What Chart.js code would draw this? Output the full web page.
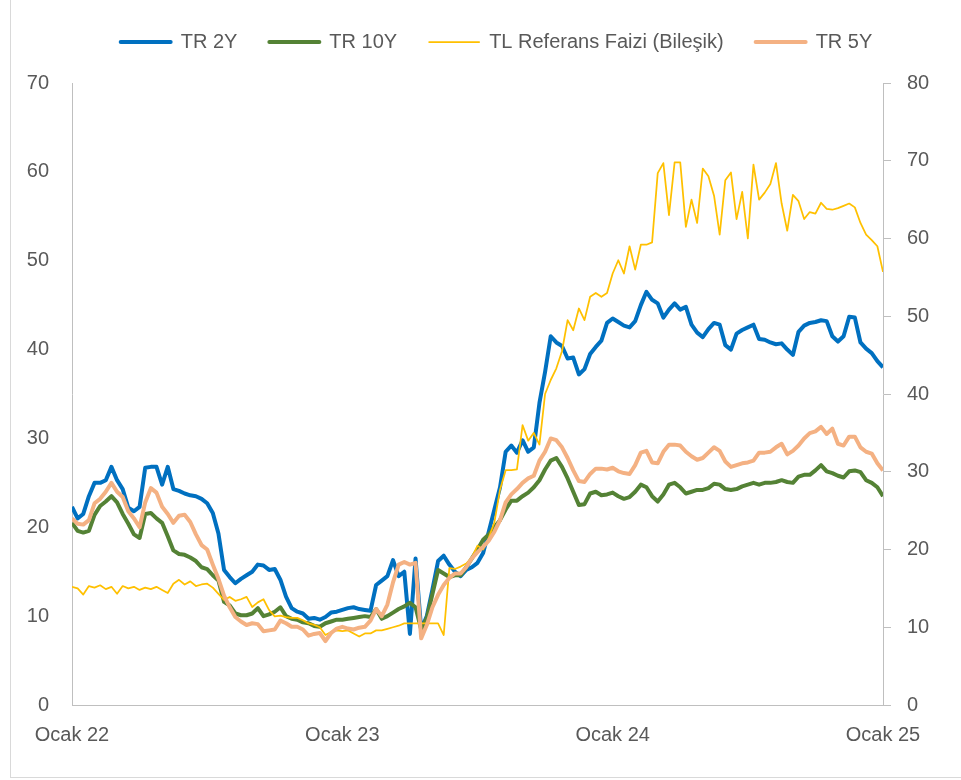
<!DOCTYPE html>
<html>
<head>
<meta charset="utf-8">
<script src="https://cdn.jsdelivr.net/npm/chart.js@4"></script>
<style>
  html, body { margin: 0; padding: 0; background: #fff; }
  #wrap { position: relative; width: 961px; height: 780px; overflow: hidden; }
  #frame { position: absolute; left: 10px; top: -2px; width: 960px; height: 780px;
           border-left: 1px solid #d9d9d9; border-bottom: 1px solid #d9d9d9; box-sizing: border-box; }
  canvas { position: absolute; left: 0; top: 0; }
</style>
</head>
<body>
<div id="wrap">
  <div id="frame"></div>
  <canvas id="rateChart" width="961" height="780"></canvas>
</div>
<script>
// Weekly readings, Jan 2022 - Jan 2025 (4 points per month)
const tr2y = [
  22.3, 21, 21.5, 23.5, 25, 25, 25.3, 26.8, 25.3, 24.3,
  22.2, 21.8, 22.3, 26.7, 26.8, 26.8, 24.8, 26.8, 24.3, 24.1,
  23.8, 23.6, 23.5, 23.2, 22.7, 21.6, 19.3, 15.2, 14.4, 13.7,
  14.2, 14.6, 15, 15.8, 15.7, 15.2, 15.3, 14.1, 12.2, 10.9,
  10.5, 10.3, 9.7, 9.8, 9.6, 9.9, 10.4, 10.5, 10.7, 10.9,
  11, 10.8, 10.7, 10.6, 13.5, 14, 14.5, 16.3, 14.5, 15,
  8, 16.5, 8.5, 10, 13, 16.2, 16.8, 15.8, 15, 14.5,
  15.2, 15.5, 16, 17.1, 19.5, 22, 24.5, 28.5, 29.2, 28.4,
  29.8, 28.5, 29, 34, 37.5, 41.5, 40.8, 40.4, 39, 39.1,
  37.2, 37.8, 39.5, 40.3, 41, 43, 43.5, 43.1, 42.7, 42.5,
  43.2, 45, 46.5, 45.6, 45.2, 43.6, 44.5, 45.2, 44.5, 44.8,
  42.8, 41.9, 41.4, 42.3, 43, 42.8, 40.5, 40, 41.8, 42.2,
  42.5, 42.8, 41.2, 41.1, 40.8, 40.6, 40.7, 40, 39.4, 42,
  42.7, 43, 43.1, 43.3, 43.2, 41.5, 40.9, 41.5, 43.7, 43.6,
  40.8, 40.1, 39.6, 38.7, 38
];
const tr10y = [
  20.5, 19.6, 19.4, 19.6, 21.4, 22.4, 22.9, 23.5, 22.8, 21.5,
  20.4, 19.2, 18.8, 21.5, 21.6, 21, 20.5, 19, 17.4, 17,
  16.9, 16.6, 16.2, 15.5, 15.3, 14.6, 14, 11.6, 11.2, 10.3,
  10.1, 10.1, 10.3, 10.9, 10, 10.2, 10.5, 11, 10, 9.7,
  9.6, 9.3, 9.2, 8.9, 8.8, 9.2, 9.4, 9.6, 9.6, 9.7,
  9.8, 9.9, 10, 9.9, 10.8, 9.7, 10, 10.4, 10.8, 11.1,
  11.5, 11, 8.5, 9.8, 12.5, 15.2, 14.8, 14.4, 14.6, 14.6,
  15.5, 16.5, 17.5, 18.6, 19.2, 20, 20.8, 22, 23, 23,
  23.5, 23.9, 24.5, 25.3, 26.5, 27.5, 27.8, 26.8, 25.5, 24,
  22.5, 22.6, 23.8, 24, 23.6, 23.7, 23.9, 23.5, 23.2, 23.4,
  24, 24.8, 24.5, 23.5, 22.9, 23.7, 24.8, 25, 24.5, 23.8,
  24, 24.2, 24.2, 24.4, 24.9, 24.8, 24.3, 24.2, 24.3, 24.6,
  24.8, 25, 24.8, 25, 25, 25.1, 25.3, 25.1, 25, 25.7,
  25.9, 25.9, 26.4, 27, 26.3, 26.1, 25.8, 25.6, 26.3, 26.4,
  26.2, 25.3, 25, 24.5, 23.5
];
const tlref = [
  15.2, 15, 14.2, 15.3, 15.1, 15.4, 14.9, 15.2, 14.3, 15.3,
  15, 15.2, 14.8, 15.1, 14.9, 15.2, 14.8, 14.4, 15.6, 16.1,
  15.5, 15.9, 15.3, 15.5, 15.6, 15.1, 14.3, 13.5, 13.9, 13.4,
  13.6, 13.9, 12.6, 13.2, 13.6, 12.2, 11.4, 11.5, 11.3, 11.2,
  11.2, 10.9, 10.5, 10.3, 10, 9, 9.4, 9.6, 9.5, 9.6,
  9.2, 8.8, 9.2, 9.2, 9.6, 9.6, 9.8, 10, 10.2, 10.5,
  10.5, 10.5, 10.5, 10.5, 10.5, 10.5, 9, 17.6, 17.5, 17.8,
  18.2, 19, 20.5, 20, 21.5, 23.5, 27.7, 30.2, 30.2, 30.3,
  36, 34, 35, 33.5, 40, 41.8, 43.3, 45.5, 49.5, 48.2,
  51, 49.5, 52.5, 53, 52.5, 53, 55.5, 57.2, 55.5, 59,
  56, 59.2, 59.2, 59.5, 68.4, 69.7, 63, 69.8, 69.8, 61.5,
  65, 62, 69, 68, 65.5, 60.5, 67.5, 68.5, 62.5, 66,
  60, 69.5, 65, 65.9, 67, 69.7, 64.5, 61, 65.6, 64.8,
  62.5, 63.4, 63.2, 64.6, 63.8, 63.7, 63.9, 64.2, 64.5, 64,
  62, 60.5, 59.8, 59, 55.7
];
const tr5y = [
  21, 20.4, 20.3, 20.8, 22.7, 23.2, 24, 25, 24, 23.4,
  21.8, 21, 20, 22.8, 24.4, 23.9, 22.3, 21.5, 20.5, 21.3,
  21.4, 20.6, 19.2, 18, 17.5, 15.8, 14.2, 12.3, 11, 9.9,
  9.4, 9, 9.2, 9.1, 8.3, 8.4, 8.5, 9.5, 9.2, 8.8,
  8.8, 8.5, 7.8, 8, 8.1, 7.2, 8.1, 8.6, 8.8, 8.6,
  8.5, 8.7, 8.8, 9.5, 10.8, 10, 11.3, 13.8, 15.8, 16.1,
  15.8, 16, 7.5, 9, 11, 12.4, 13.5, 14.3, 14.8, 14.8,
  15.5, 16.5, 17.2, 17.8, 18.5, 19.5, 20.8, 22.8, 23.7, 24.3,
  25, 25.5, 25.8, 27.5, 28.5, 30, 29.8, 29, 27.8, 26.4,
  25.2, 25.1, 26, 26.6, 26.6, 26.5, 26.7, 26.3, 26.1, 26,
  27, 28.4, 28.6, 27.3, 27.2, 28.5, 29.3, 29.3, 29.2, 28.5,
  28, 27.6, 27.8, 28.4, 29, 28.6, 27.4, 26.8, 27, 27.2,
  27.3, 27.5, 28.4, 28.4, 28.5, 29, 29.4, 28.2, 28.6, 29.2,
  30, 30.6, 30.8, 31.3, 30.5, 31.1, 29.4, 29.2, 30.2, 30.2,
  29, 28.5, 28.3, 27.2, 26.4
];
const xTickLabels = ["Ocak 22", "Ocak 23", "Ocak 24", "Ocak 25"];
const months = tr2y.map((_, i) => i / 4);

const textColor = "#595959";
const axisColor = "#BFBFBF";
const font = { family: "'Liberation Sans', Arial, sans-serif", size: 20 };

// fixed legend height + small horizontal nudge, like the Excel original
const legendFix = {
  id: "legendFix",
  beforeLayout(chart) {
    const lg = chart.legend;
    if (lg && !lg._fixed) {
      const fit = lg.fit;
      lg.fit = function () {
        fit.call(this);
        this.height = 83;
      };
      lg._fixed = true;
    }
  },
  afterLayout(chart) {
    chart.legend.left += 16;
    chart.legend.right += 16;
  },
};

function line(label, data, color, width, axis, order) {
  return {
    label: label,
    data: data,
    borderColor: color,
    backgroundColor: color,
    borderWidth: width,
    pointRadius: 0,
    tension: 0,
    borderJoinStyle: "round",
    yAxisID: axis,
    order: order,
  };
}

new Chart(document.getElementById("rateChart").getContext("2d"), {
  type: "line",
  data: {
    labels: months,
    datasets: [
      line("TR 2Y", tr2y, "#0070C0", 4, "y", 4),
      line("TR 10Y", tr10y, "#548235", 4, "y", 3),
      line("TL Referans Faizi (Bileşik)", tlref, "#FFC000", 1.75, "y2", 2),
      line("TR 5Y", tr5y, "#F4B183", 4, "y", 1),
    ],
  },
  options: {
    responsive: false,
    animation: false,
    devicePixelRatio: 1,
    layout: { padding: 0 },
    plugins: {
      tooltip: { enabled: false },
      legend: {
        position: "top",
        labels: {
          boxWidth: 50,
          boxHeight: 0,
          padding: 32,
          color: textColor,
          font: font,
          sort: (a, b) => a.datasetIndex - b.datasetIndex,
        },
      },
    },
    scales: {
      x: {
        type: "linear",
        min: 0,
        max: 36,
        grid: { display: false, drawTicks: false },
        border: { display: true, color: axisColor, width: 1 },
        ticks: {
          stepSize: 12,
          autoSkip: false,
          maxRotation: 0,
          padding: 18,
          color: textColor,
          font: font,
          callback: (v) => xTickLabels[Math.round(v / 12)],
        },
        afterFit: (s) => { s.height = 75; },
      },
      y: {
        position: "left",
        min: 0,
        max: 70,
        grid: { display: false, drawTicks: false },
        border: { display: true, color: axisColor, width: 1 },
        ticks: { stepSize: 10, padding: 23, color: textColor, font: font },
        afterFit: (s) => { s.width = 72; },
      },
      y2: {
        position: "right",
        min: 0,
        max: 80,
        grid: { display: true, drawOnChartArea: false, drawTicks: true, tickLength: 8, color: axisColor },
        border: { display: true, color: axisColor, width: 1 },
        ticks: { stepSize: 10, padding: 16, color: textColor, font: font },
        afterFit: (s) => { s.width = 78; },
      },
    },
  },
  plugins: [legendFix],
});
</script>
</body>
</html>
